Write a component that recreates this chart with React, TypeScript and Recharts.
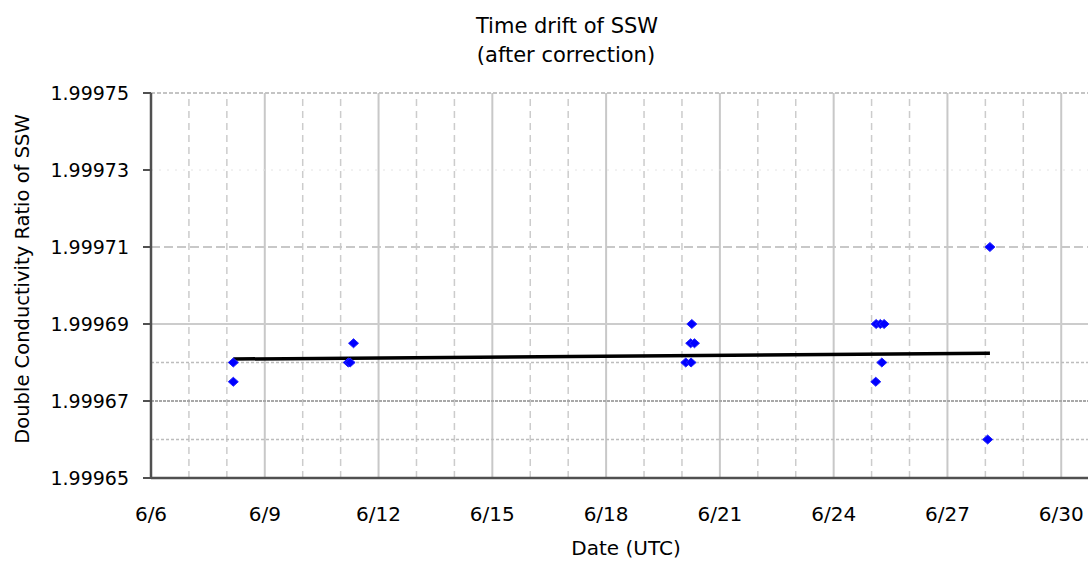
import React from 'react';
import { ScatterChart, Scatter, XAxis, YAxis, ReferenceLine } from 'recharts';

// Day of June for each measurement
const pointDays = [8.17, 8.17, 11.2, 11.25, 11.34, 20.1, 20.24, 20.23, 20.33, 20.26, 25.11, 25.27, 25.12, 25.23, 25.33, 28.06, 28.12];
const pointValues = [1.99968, 1.999675, 1.99968, 1.99968, 1.999685, 1.99968, 1.99968, 1.999685, 1.999685, 1.99969, 1.999675, 1.99968, 1.99969, 1.99969, 1.99969, 1.99966, 1.99971];

// Linear trend (fit) endpoints
const trendDays = [8.17, 28.12];
const trendValues = [1.9996809, 1.9996824];

// Axis ticks
const xTicks = [6, 9, 12, 15, 18, 21, 24, 27, 30];
const xMinorDays = [7, 8, 10, 11, 13, 14, 16, 17, 19, 20, 22, 23, 25, 26, 28, 29, 31, 32];
const xMajorDays = [9, 12, 15, 18, 21, 24, 27, 30, 33];
const yTicks = [1.99965, 1.99967, 1.99969, 1.99971, 1.99973, 1.99975];
const yMinorValues = [1.99966, 1.99968];

const points = pointDays.map((d, i) => ({ x: d, y: pointValues[i] }));
const trend = trendDays.map((d, i) => ({ x: d, y: trendValues[i] }));

const FONT = '"DejaVu Sans", sans-serif';

const Diamond = (props: any) => {
  const { cx, cy } = props;
  if (cx == null || cy == null) return null;
  return (
    <path
      d={`M${cx},${cy - 4.5} L${cx + 5},${cy} L${cx},${cy + 4.5} L${cx - 5},${cy} Z`}
      fill="#0000ff"
      stroke="#2020ff"
      strokeWidth={1}
    />
  );
};

const Empty = () => <g />;

const hStyle = (v: number) => {
  const k = v.toFixed(5);
  if (k === '1.99975') return { stroke: '#c4c4c4', strokeWidth: 2, strokeDasharray: '4 2' };
  if (k === '1.99973') return { stroke: '#e4e4e4', strokeWidth: 1, strokeDasharray: '2 6' };
  if (k === '1.99971') return { stroke: '#c8c8c8', strokeWidth: 2, strokeDasharray: '9 4' };
  if (k === '1.99969') return { stroke: '#cccccc', strokeWidth: 2 };
  if (k === '1.99967') return { stroke: '#a8a8a8', strokeWidth: 2, strokeDasharray: '3 1' };
  return null;
};

export default function App() {
  return (
    <div
      style={{
        position: 'fixed',
        left: 0,
        top: 0,
        width: 1088,
        height: 561,
        overflow: 'hidden',
        background: '#ffffff',
        fontFamily: FONT,
      }}
    >
      <div style={{ position: 'absolute', left: 0, top: 0 }}>
        <ScatterChart width={1180} height={561} margin={{ top: 93, right: 5, bottom: 0, left: 0 }}>
          {xMinorDays.map((d) => (
            <ReferenceLine key={'xm' + d} x={d} stroke="#cccccc" strokeWidth={1.5} strokeDasharray="7 5" ifOverflow="hidden" />
          ))}
          {xMajorDays.map((d) => (
            <ReferenceLine key={'xM' + d} x={d} stroke="#c8c8c8" strokeWidth={2} ifOverflow="hidden" />
          ))}
          {yMinorValues.map((v) => (
            <ReferenceLine key={'ym' + v} y={v} stroke="#bdbdbd" strokeWidth={1.5} strokeDasharray="3 2" />
          ))}
          {yTicks.map((v) => {
            const s = hStyle(v);
            return s ? <ReferenceLine key={'yM' + v} y={v} {...s} /> : null;
          })}
          <XAxis
            type="number"
            dataKey="x"
            domain={[6, 33]}
            ticks={xTicks}
            interval={0}
            allowDataOverflow
            tickFormatter={(d: number) => `6/${d}`}
            height={83}
            axisLine={{ stroke: '#505050', strokeWidth: 2.5 }}
            tickLine={false}
            tickSize={0}
            tickMargin={29}
            tick={{ fill: '#000000', fontSize: 20, fontFamily: FONT }}
          />
          <YAxis
            type="number"
            dataKey="y"
            domain={[1.99965, 1.99975]}
            ticks={yTicks}
            interval={0}
            allowDataOverflow
            tickFormatter={(v: number) => v.toFixed(5)}
            width={151}
            axisLine={{ stroke: '#505050', strokeWidth: 2.5 }}
            tickLine={{ stroke: '#505050', strokeWidth: 2 }}
            tickSize={8}
            tickMargin={14}
            tick={{ fill: '#000000', fontSize: 19, fontFamily: FONT }}
          />
          <Scatter
            data={trend}
            line={{ stroke: '#000000', strokeWidth: 3.5 }}
            shape={Empty}
            isAnimationActive={false}
          />
          <Scatter data={points} shape={Diamond} isAnimationActive={false} />
        </ScatterChart>
      </div>
      <div
        style={{
          position: 'absolute',
          left: 367,
          width: 400,
          top: 14,
          textAlign: 'center',
          fontSize: 21,
          lineHeight: '24px',
          color: '#000',
          whiteSpace: 'nowrap',
        }}
      >
        Time drift of SSW
      </div>
      <div
        style={{
          position: 'absolute',
          left: 366,
          width: 400,
          top: 43,
          textAlign: 'center',
          fontSize: 21,
          lineHeight: '24px',
          color: '#000',
          whiteSpace: 'nowrap',
        }}
      >
        (after correction)
      </div>
      <div
        style={{
          position: 'absolute',
          left: 426,
          width: 400,
          top: 537,
          textAlign: 'center',
          fontSize: 20,
          lineHeight: '22px',
          color: '#000',
          whiteSpace: 'nowrap',
        }}
      >
        Date (UTC)
      </div>
      <div
        style={{
          position: 'absolute',
          left: 23 - 200,
          top: 279 - 11,
          width: 400,
          textAlign: 'center',
          fontSize: 19.5,
          lineHeight: '22px',
          color: '#000',
          whiteSpace: 'nowrap',
          transform: 'rotate(-90deg)',
          transformOrigin: '200px 11px',
        }}
      >
        Double Conductivity Ratio of SSW
      </div>
    </div>
  );
}
